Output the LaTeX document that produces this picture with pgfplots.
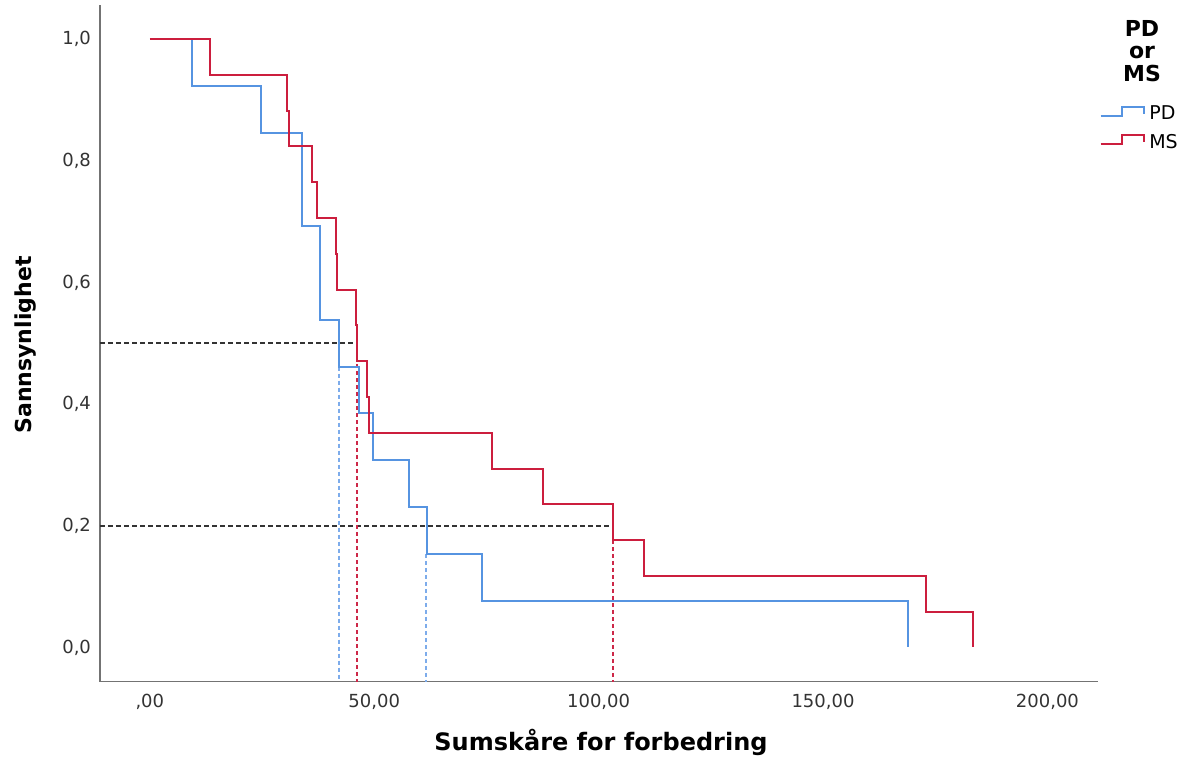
\documentclass[border=0pt]{standalone}
\usepackage{pgfplots}
\pgfplotsset{compat=1.18}
\usepackage{fontspec}
\setmainfont{DejaVu Sans}
\definecolor{pdblue}{RGB}{86,148,225}
\definecolor{msred}{RGB}{204,30,62}
\definecolor{pdbluelight}{RGB}{125,172,235}
\definecolor{msredlight}{RGB}{205,40,72}
\begin{document}
\begin{tikzpicture}[x=1pt,y=1pt]
\useasboundingbox (0,0) rectangle (591.5,378);
\begin{axis}[
  at={(50pt,37.25pt)}, anchor=south west,
  scale only axis, width=498.85pt, height=338.25pt,
  xmin=-11.1, xmax=211.2, ymin=-0.056, ymax=1.056,
  axis x line*=bottom, axis y line*=left,
  axis line style={black!55, line width=0.7pt, -},
  major tick length=0pt,
  xtick={0,50,100,150,200},
  xticklabels={{,00},{50,00},{100,00},{150,00},{200,00}},
  ytick={0,0.2,0.4,0.6,0.8,1},
  yticklabels={{0,0},{0,2},{0,4},{0,6},{0,8},{1,0}},
  tick label style={font=\fontsize{9}{10}\selectfont, text=black!80},
  xticklabel style={yshift=-3pt},
  yticklabel style={xshift=-1pt},
  legend style={draw=none, fill=none, inner sep=0pt, outer sep=0pt,
    row sep=2.5pt, column sep=0pt,
    font=\fontsize{9.5}{11}\selectfont,
    nodes={inner sep=1.5pt, anchor=west},
    at={(axis description cs:1.002,0.855)}, anchor=north west},
  legend cell align=left,
]
% reference dashed lines
\addplot[forget plot, black!80, line width=0.8pt, dash pattern=on 2.5pt off 1.5pt] coordinates {(-11.1,0.5) (46.2,0.5)};
\addplot[forget plot, black!80, line width=0.8pt, dash pattern=on 2.5pt off 1.5pt] coordinates {(-11.1,0.2) (103.2,0.2)};
\addplot[forget plot, pdbluelight, line width=1pt, dash pattern=on 2pt off 1.5pt] coordinates {(42.2,0.4615) (42.2,-0.056)};
\addplot[forget plot, pdbluelight, line width=1pt, dash pattern=on 2pt off 1.5pt] coordinates {(61.5,0.1538) (61.5,-0.056)};
\addplot[forget plot, msredlight, line width=1pt, dash pattern=on 2pt off 1.5pt] coordinates {(46.1,0.5) (46.1,-0.056)};
\addplot[forget plot, msredlight, line width=1pt, dash pattern=on 2pt off 1.5pt] coordinates {(103.1,0.2) (103.1,-0.056)};
% PD
\addplot[const plot, pdblue, line width=1pt,
  legend image code/.code={\draw[pdblue, line width=1pt] (0pt,-0.8pt) -- (10.8pt,-0.8pt) -- (10.8pt,3.8pt) -- (21.5pt,3.8pt) -- (21.5pt,0.4pt); \path (22.3pt,0pt);}]
coordinates {
(0,1) (9.4,0.9231) (24.7,0.8462) (33.8,0.6923) (37.9,0.5385) (42.2,0.4615)
(46.7,0.3846) (49.7,0.3077) (57.8,0.2308) (61.8,0.1538) (74.0,0.0769) (168.9,0)
};
\addlegendentry{PD}
% MS
\addplot[const plot, msred, line width=1pt,
  legend image code/.code={\draw[msred, line width=1pt] (0pt,-0.8pt) -- (10.8pt,-0.8pt) -- (10.8pt,3.8pt) -- (21.5pt,3.8pt) -- (21.5pt,0.4pt); \path (22.3pt,0pt);}]
coordinates {
(0,1) (13.5,0.9412) (30.6,0.8824) (31.0,0.8235) (36.1,0.7647) (37.3,0.7059)
(41.4,0.6471) (41.6,0.5882) (45.9,0.5294) (46.1,0.4706) (48.4,0.4118) (48.8,0.3529)
(76.3,0.2941) (87.5,0.2353) (103.1,0.1765) (110.1,0.1176) (173.0,0.0588) (183.4,0)
};
\addlegendentry{MS}
\end{axis}
\node[align=center, font=\bfseries\fontsize{11}{11.4}\selectfont] at (571,352.5) {PD\\or\\MS};
\node[font=\bfseries\fontsize{12}{14}\selectfont, anchor=base] at (300.5,3) {Sumskåre for forbedring};
\node[font=\bfseries\fontsize{11}{13}\selectfont, rotate=90, anchor=base] at (15.85,205.5) {Sannsynlighet};
\end{tikzpicture}
\end{document}
